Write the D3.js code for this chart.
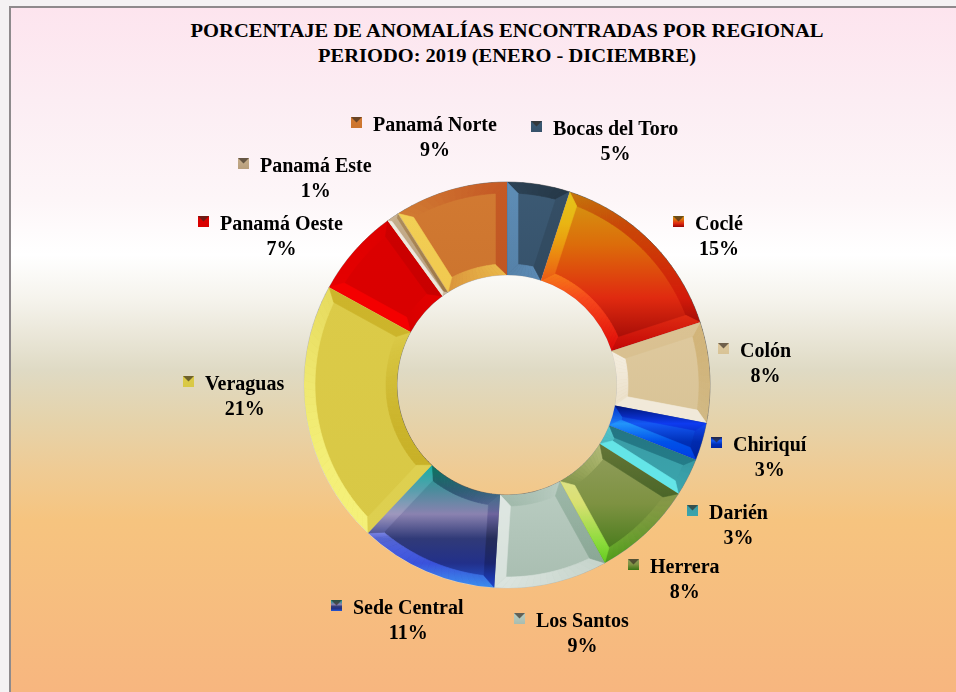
<!DOCTYPE html>
<html>
<head>
<meta charset="utf-8">
<script src="https://cdn.jsdelivr.net/npm/d3@7"></script>
<style>
  html, body { margin: 0; background: #ffffff; overflow: hidden; }
  svg { display: block; }
</style>
</head>
<body>
<script>
// Datos del gráfico
const regiones = ["Bocas del Toro", "Coclé", "Colón", "Chiriquí", "Darién", "Herrera",
                  "Los Santos", "Sede Central", "Veraguas", "Panamá Oeste", "Panamá Este", "Panamá Norte"];
const porcentajes = [5, 15, 8, 3, 3, 8, 9, 11, 21, 7, 1, 9];
const titulo = ["PORCENTAJE DE ANOMALÍAS  ENCONTRADAS  POR  REGIONAL",
                "PERIODO: 2019 (ENERO - DICIEMBRE)"];

// posición de cada etiqueta (inicio del nombre, línea base)
const posEtiqueta = {
    "Bocas del Toro": [553, 135], "Coclé": [695, 230], "Colón": [740, 357],
    "Chiriquí": [733, 451], "Darién": [709, 519], "Herrera": [650, 573],
    "Los Santos": [536, 627], "Sede Central": [353, 614], "Veraguas": [205, 390],
    "Panamá Oeste": [220, 230], "Panamá Este": [260, 172], "Panamá Norte": [373, 131]
};

// colores de cada sector (degradado vertical)
const estilos = {
    "Bocas del Toro": ["#3c5a74", "#36526b"],
    "Coclé": ["#d49c12", "#dc6c0a", "#e02a10", "#960404"],
    "Colón": ["#dfc99e", "#d8c396"],
    "Chiriquí": ["#00209a", "#1458f4", "#0030b8", "#0024a4"],
    "Darién": ["#3a9ca6", "#3aa4ac"],
    "Herrera": ["#929e5e", "#7e9242", "#3a7612"],
    "Los Santos": ["#bacdc2", "#a8bdb0"],
    "Sede Central": ["#13a090", "#4a8c9c", "#8a82b0", "#303a78", "#22308a", "#2458d8"],
    "Veraguas": ["#dccb48", "#d8c845"],
    "Panamá Oeste": ["#dc0000", "#d80000"],
    "Panamá Este": ["#c6ae8c", "#b89e7c"],
    "Panamá Norte": ["#d27a32", "#cc742e"]
};

const W = 956, H = 692;
const svg = d3.select("body").append("svg").attr("width", W).attr("height", H);
const defs = svg.append("defs");

function degradado(id, colores) {
    const g = defs.append("linearGradient").attr("id", id)
        .attr("x1", 0).attr("y1", 0).attr("x2", 0).attr("y2", 1);
    colores.forEach((c, i) => {
        g.append("stop").attr("offset", i / (colores.length - 1)).attr("stop-color", c);
    });
}

// Fondo
const fondo = defs.append("linearGradient").attr("id", "fondo")
    .attr("x1", 0).attr("y1", 0).attr("x2", 0).attr("y2", 1);
[[0, "#fde4ee"], [0.137, "#fcedf3"], [0.283, "#fdf6f8"], [0.363, "#ffffff"], [0.429, "#f5f3ec"],
 [0.531, "#dfdac4"], [0.603, "#e5d3ab"], [0.676, "#efcb94"], [0.749, "#f6c47f"], [1, "#f7b67f"]]
    .forEach(s => fondo.append("stop").attr("offset", s[0]).attr("stop-color", s[1]));

svg.append("rect").attr("x", 0).attr("y", 0).attr("width", W).attr("height", H).attr("fill", "#f4f2f3");
svg.append("rect").attr("x", 9).attr("y", 6).attr("width", W - 9).attr("height", H - 6).attr("fill", "url(#fondo)");
svg.append("path").attr("d", `M10,${H} V7 H${W}`).attr("fill", "none")
    .attr("stroke", "#8e8a8c").attr("stroke-width", 2);

// Título
svg.append("g").selectAll("text").data(titulo).join("text")
    .attr("x", W / 2 + 29).attr("y", (d, i) => 37 + i * 25)
    .attr("text-anchor", "middle")
    .attr("font-family", "Liberation Serif, Times New Roman, serif")
    .attr("font-weight", "bold").attr("font-size", 19)
    .attr("textLength", (d, i) => i == 0 ? 633 : 378)
    .attr("lengthAdjust", "spacingAndGlyphs")
    .text(d => d);

// Anillo
const cx = 507, cy = 385, rIn = 110, rOut = 203, bisel = 11;
const pie = d3.pie().sort(null).value(d => d);
const arcos = pie(porcentajes);
const arco = d3.arc().innerRadius(rIn).outerRadius(rOut);

regiones.forEach((r, i) => degradado("cara" + i, estilos[r]));

const anillo = svg.append("g").attr("transform", `translate(${cx},${cy})`)
    .style("isolation", "isolate");
const linea = d3.line().curve(d3.curveLinearClosed);
const pt = (r, a) => [r * Math.sin(a), -r * Math.cos(a)];
const luz = [-0.7, 0.7];

// gris para mezcla "overlay": >128 aclara, <128 oscurece
function sombra(n) {
    const s = Math.max(-1, Math.min(1, 0.2 + 0.8 * (n[0] * luz[0] + n[1] * luz[1])));
    const v = Math.round(128 + 95 * s);
    return `rgb(${v},${v},${v})`;
}

arcos.forEach((d, i) => {
    const g = anillo.append("g");
    g.append("path").attr("d", arco(d)).attr("fill", `url(#cara${i})`);

    const a0 = d.startAngle, a1 = d.endAngle;
    const b = Math.min(bisel, 0.45 * (a1 - a0) * rIn);
    const dOut = Math.asin(b / (rOut - b)), dIn = Math.asin(b / (rIn + b));
    const pasos = Math.max(2, Math.ceil((a1 - a0) / 0.04));
    const caras = [];
    for (let k = 0; k < pasos; k++) {
        const t0 = k / pasos, t1 = (k + 1) / pasos;
        const am = a0 + (a1 - a0) * (t0 + t1) / 2;
        // banda exterior
        const fo = t => a0 + dOut + (a1 - a0 - 2 * dOut) * t;
        caras.push({
            p: [pt(rOut, a0 + (a1 - a0) * t0), pt(rOut, a0 + (a1 - a0) * t1), pt(rOut - b, fo(t1)), pt(rOut - b, fo(t0))],
            n: [Math.sin(am), -Math.cos(am)]
        });
        // banda interior
        const fi = t => a0 + dIn + (a1 - a0 - 2 * dIn) * t;
        caras.push({
            p: [pt(rIn, a0 + (a1 - a0) * t0), pt(rIn, a0 + (a1 - a0) * t1), pt(rIn + b, fi(t1)), pt(rIn + b, fi(t0))],
            n: [-Math.sin(am), Math.cos(am)]
        });
    }
    // lados
    caras.push({
        p: [pt(rOut, a0), pt(rIn, a0), pt(rIn + b, a0 + dIn), pt(rOut - b, a0 + dOut)],
        n: [-Math.cos(a0), -Math.sin(a0)]
    });
    caras.push({
        p: [pt(rOut, a1), pt(rIn, a1), pt(rIn + b, a1 - dIn), pt(rOut - b, a1 - dOut)],
        n: [Math.cos(a1), Math.sin(a1)]
    });
    const bis = g.append("g").style("mix-blend-mode", "overlay");
    bis.selectAll("path").data(caras).join("path")
        .attr("d", c => linea(c.p))
        .attr("fill", c => sombra(c.n))
        .attr("stroke", c => sombra(c.n)).attr("stroke-width", 0.6).attr("stroke-linejoin", "round");
});

// Etiquetas
const etiquetas = svg.append("g")
    .attr("font-family", "Liberation Serif, Times New Roman, serif")
    .attr("font-weight", "bold").attr("font-size", 20).attr("fill", "#000");

regiones.forEach((r, i) => {
    const [x, y] = posEtiqueta[r];
    const g = etiquetas.append("g");
    g.append("rect").attr("x", x - 22).attr("y", y - 14).attr("width", 11).attr("height", 11)
        .attr("fill", `url(#cara${i})`);
    g.append("path").attr("d", `M${x - 22},${y - 14} h11 l-5.5,5.5 z`).attr("fill", "rgba(50,40,30,0.65)");
    const nombre = g.append("text").attr("x", x).attr("y", y).text(r);
    const w = nombre.node().getComputedTextLength();
    g.append("text").attr("x", x + w / 2).attr("y", y + 25).attr("text-anchor", "middle")
        .text(porcentajes[i] + "%");
});
</script>
</body>
</html>
